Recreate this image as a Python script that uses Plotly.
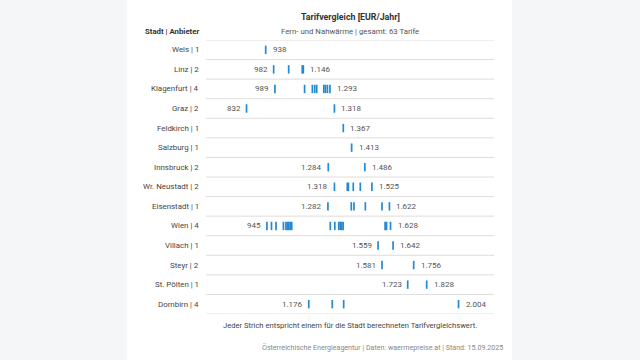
import plotly.graph_objects as go

cities = ["Wels", "Linz", "Klagenfurt", "Graz", "Feldkirch", "Salzburg", "Innsbruck",
          "Wr. Neustadt", "Eisenstadt", "Wien", "Villach", "Steyr", "St. Pölten", "Dornbirn"]
providers = [1, 2, 4, 2, 1, 1, 2, 2, 1, 4, 1, 2, 1, 4]
tariffs = [
    [938],
    [982, 1065, 1140, 1146],
    [989, 1153, 1196, 1209, 1220, 1259, 1268, 1279, 1293],
    [832, 1318],
    [1367],
    [1413],
    [1284, 1486],
    [1318, 1389, 1395, 1422, 1461, 1525],
    [1282, 1411, 1426, 1489, 1581, 1622],
    [945, 970, 995, 1036, 1050, 1058, 1066, 1074, 1082, 1295, 1320, 1342, 1350, 1358, 1366, 1598, 1606, 1628],
    [1559, 1642],
    [1581, 1756],
    [1723, 1828],
    [1176, 1306, 1369, 2004],
]

title = "Tarifvergleich [EUR/Jahr]"
subtitle = "Fern- und Nahwärme | gesamt: 63 Tarife"
header = "Stadt | Anbieter"
note = "Jeder Strich entspricht einem für die Stadt berechneten Tarifvergleichswert."
source = "Österreichische Energieagentur | Daten: waermepreise.at | Stand: 15.09.2025"

FONT = "Roboto"
BLUE = "#2389d0"


def fmt(v):
    return f"{v:,}".replace(",", ".")


fig = go.Figure()
xs, ys = [], []
for i, vals in enumerate(tariffs):
    xs += vals
    ys += [i] * len(vals)
fig.add_trace(go.Scatter(
    x=xs, y=ys, mode="markers", hoverinfo="x",
    marker=dict(symbol="line-ns", size=6, line=dict(width=1.7, color=BLUE)),
    showlegend=False,
))

annotations = []
for i, vals in enumerate(tariffs):
    lo, hi = min(vals), max(vals)
    if lo != hi:
        annotations.append(dict(x=lo, y=i, xref="x", yref="y", text=fmt(lo), showarrow=False,
                                xanchor="right", xshift=-4, font=dict(size=8, color="#555", family=FONT)))
    annotations.append(dict(x=hi, y=i, xref="x", yref="y", text=fmt(hi), showarrow=False,
                            xanchor="left", xshift=5, font=dict(size=8, color="#555", family=FONT)))
    annotations.append(dict(x=0, y=i, xref="paper", yref="y", text=f"{cities[i]} | {providers[i]}",
                            showarrow=False, xanchor="right", xshift=-5,
                            font=dict(size=7.9, color="#444", family=FONT)))

annotations += [
    dict(x=0.5, y=16, xref="paper", yref="paper", text=f"<b>{title}</b>", showarrow=False,
         yanchor="middle", font=dict(size=8.8, color="#333", family=FONT)),
    dict(x=0.5, y=31, xref="paper", yref="paper", text=subtitle, showarrow=False,
         yanchor="middle", font=dict(size=7.8, color="#555", family=FONT)),
    dict(x=0, y=31, xref="paper", yref="paper", text=f"<b>{header}</b>", showarrow=False,
         xanchor="right", xshift=-5, yanchor="middle", font=dict(size=7.8, color="#333", family=FONT)),
    dict(x=0.5, y=326, xref="paper", yref="paper", text=note, showarrow=False,
         yanchor="middle", font=dict(size=7.6, color="#444", family=FONT)),
    dict(x=1, y=348, xref="paper", yref="paper", text=source, showarrow=False,
         xanchor="right", xshift=11, yanchor="middle", font=dict(size=7.1, color="#888", family=FONT)),
]

# convert pixel y positions for header annotations to paper coords
T, B, H = 39.5, 45.5, 360
ph = H - T - B
for a in annotations:
    if a.get("yref") == "paper":
        a["y"] = 1 - (a["y"] - T) / ph

shapes = [dict(type="rect", xref="paper", yref="paper", x0=(127 - 206) / 288, x1=(512 - 206) / 288,
               y0=-1, y1=2, fillcolor="white", line=dict(width=0), layer="below")]
for k in range(len(cities) + 1):
    shapes.append(dict(type="line", xref="paper", yref="y", x0=0, x1=1, y0=k - 0.5, y1=k - 0.5,
                       line=dict(color="#dddddd", width=1), layer="below"))

fig.update_layout(
    width=640, height=360,
    margin=dict(l=206, r=146, t=T, b=B),
    paper_bgcolor="#f5f6f8", plot_bgcolor="white",
    font=dict(family=FONT),
    xaxis=dict(range=[608, 2200], visible=False, fixedrange=True),
    yaxis=dict(range=[len(cities) - 0.5, -0.5], visible=False, fixedrange=True),
    annotations=annotations, shapes=shapes,
)
fig.write_html("out.html")
